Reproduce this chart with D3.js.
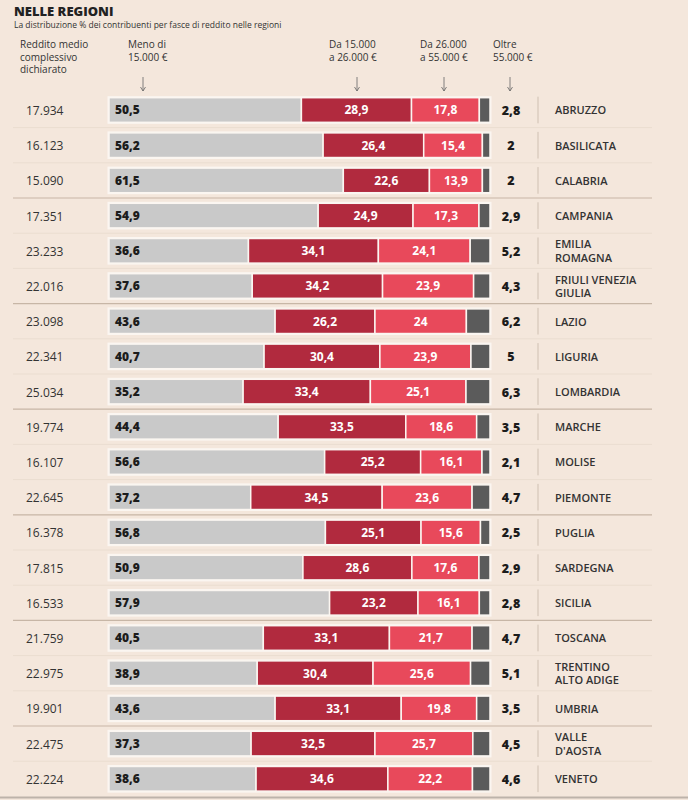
<!DOCTYPE html>
<html><head><meta charset="utf-8">
<script src="https://cdn.jsdelivr.net/npm/d3@7"></script>
<style>
html,body{margin:0;padding:0;background:#f4e7dc;}
svg{display:block;font-family:"Open Sans",sans-serif;}
</style></head>
<body>
<svg id="c" width="688" height="800"></svg>
<script>
const regions = ["ABRUZZO","BASILICATA","CALABRIA","CAMPANIA","EMILIA\nROMAGNA","FRIULI VENEZIA\nGIULIA","LAZIO","LIGURIA","LOMBARDIA","MARCHE","MOLISE","PIEMONTE","PUGLIA","SARDEGNA","SICILIA","TOSCANA","TRENTINO\nALTO ADIGE","UMBRIA","VALLE\nD'AOSTA","VENETO"];
const reddito = ["17.934","16.123","15.090","17.351","23.233","22.016","23.098","22.341","25.034","19.774","16.107","22.645","16.378","17.815","16.533","21.759","22.975","19.901","22.475","22.224"];
const meno15 = [50.5,56.2,61.5,54.9,36.6,37.6,43.6,40.7,35.2,44.4,56.6,37.2,56.8,50.9,57.9,40.5,38.9,43.6,37.3,38.6];
const da15a26 = [28.9,26.4,22.6,24.9,34.1,34.2,26.2,30.4,33.4,33.5,25.2,34.5,25.1,28.6,23.2,33.1,30.4,33.1,32.5,34.6];
const da26a55 = [17.8,15.4,13.9,17.3,24.1,23.9,24,23.9,25.1,18.6,16.1,23.6,15.6,17.6,16.1,21.7,25.6,19.8,25.7,22.2];
const oltre55 = [2.8,2,2,2.9,5.2,4.3,6.2,5,6.3,3.5,2.1,4.7,2.5,2.9,2.8,4.7,5.1,3.5,4.5,4.6];
const bandLabels = [["Meno di","15.000 €"],["Da 15.000","a 26.000 €"],["Da 26.000","a 55.000 €"],["Oltre","55.000 €"]];
const fmt = v => String(v).replace(".", ",");

const svg = d3.select("#c");
const x = d3.scaleLinear().domain([0,100]).range([109,490]);
const y = d3.scaleBand().domain(d3.range(regions.length)).range([92.4,796.4]).paddingInner(0.3).paddingOuter(0.15);
const rowStep = y.step();
const colors = ["#c9c9c9","#b12a3e","#e8495b","#5b5b5b"];

// title
svg.append("text").attr("x",14).attr("y",16).attr("font-size",13).attr("font-weight",800).attr("fill","#222").text("NELLE REGIONI");
svg.append("text").attr("x",14).attr("y",28).attr("font-size",8.5).attr("fill","#333").text("La distribuzione % dei contribuenti per fasce di reddito nelle regioni");

// column headers
const hdr = svg.append("g").attr("font-size",10).attr("fill","#333");
["Reddito medio","complessivo","dichiarato"].forEach((t,i)=>hdr.append("text").attr("x",20).attr("y",48+i*12.5).text(t));
const hx = [128,329,420,493];
const ax = [143,357,444,510];
bandLabels.forEach((l,i)=>{
  l.forEach((t,j)=>hdr.append("text").attr("x",hx[i]).attr("y",48+j*12.5).text(t));
  svg.append("line").attr("x1",ax[i]).attr("x2",ax[i]).attr("y1",77).attr("y2",91).attr("stroke","#666").attr("stroke-width",0.8);
  svg.append("path").attr("d",`M${ax[i]-2.5},87 L${ax[i]},91 L${ax[i]+2.5},87`).attr("fill","none").attr("stroke","#666").attr("stroke-width",0.8);
});

// separators
regions.forEach((r,i)=>{
  if(i===0) return;
  const yy = y(i) - (rowStep - y.bandwidth())/2;
  const strong = i%3===0;
  svg.append("line").attr("x1",13).attr("x2",652).attr("y1",yy).attr("y2",yy)
    .attr("stroke", strong ? "#c7b6a6" : "#eaddd0").attr("stroke-width", strong?1.2:1);
});
svg.append("line").attr("x1",0).attr("x2",688).attr("y1",797.5).attr("y2",797.5).attr("stroke","#bdb3aa").attr("stroke-width",2);

const rows = svg.append("g").selectAll("g").data(regions).join("g")
  .attr("transform",(d,i)=>`translate(0,${y(i)})`);
const bh = y.bandwidth();

rows.each(function(name,i){
  const g = d3.select(this);
  const vals = [meno15[i],da15a26[i],da26a55[i],oltre55[i]];
  let cum = 0;
  g.append("rect").attr("x",x(0)-1.5).attr("y",-1.5).attr("width",x(100)-x(0)+3).attr("height",bh+3).attr("fill","#fbf6f1");
  vals.forEach((v,k)=>{
    const x0 = x(cum), x1 = x(cum+v);
    g.append("rect").attr("x",x0).attr("y",0).attr("width",Math.max(0,x1-x0)).attr("height",bh)
      .attr("fill",colors[k]).attr("stroke","#fbf6f1").attr("stroke-width",1.5);
    if(k===0){
      g.append("text").attr("x",x0+6).attr("y",bh/2+4.5).attr("font-size",12).attr("font-weight",800).attr("fill","#1c1c1c").text(fmt(v));
    } else if(k<3){
      g.append("text").attr("x",(x0+x1)/2).attr("y",bh/2+4.5).attr("text-anchor","middle").attr("font-size",12).attr("font-weight",700).attr("fill","#fff").text(fmt(v));
    } else {
      g.append("text").attr("x",511).attr("y",bh/2+5).attr("text-anchor","middle").attr("font-size",12.5).attr("font-weight",800).attr("fill","#1c1c1c").text(fmt(v));
    }
    cum += v;
  });
  g.append("text").attr("x",26).attr("y",bh/2+5).attr("font-size",12).attr("fill","#333").text(reddito[i]);
  g.append("line").attr("x1",538).attr("x2",538).attr("y1",-1).attr("y2",bh+1).attr("stroke","#cfc0b2").attr("stroke-width",1);
  const lines = name.split("\n");
  lines.forEach((t,j)=>{
    const yy = lines.length===1 ? bh/2+4.5 : bh/2 - 2.5 + j*13.5;
    g.append("text").attr("x",555).attr("y",yy).attr("font-size",11).attr("font-weight",600).attr("fill","#333").text(t);
  });
});
</script>
</body></html>
